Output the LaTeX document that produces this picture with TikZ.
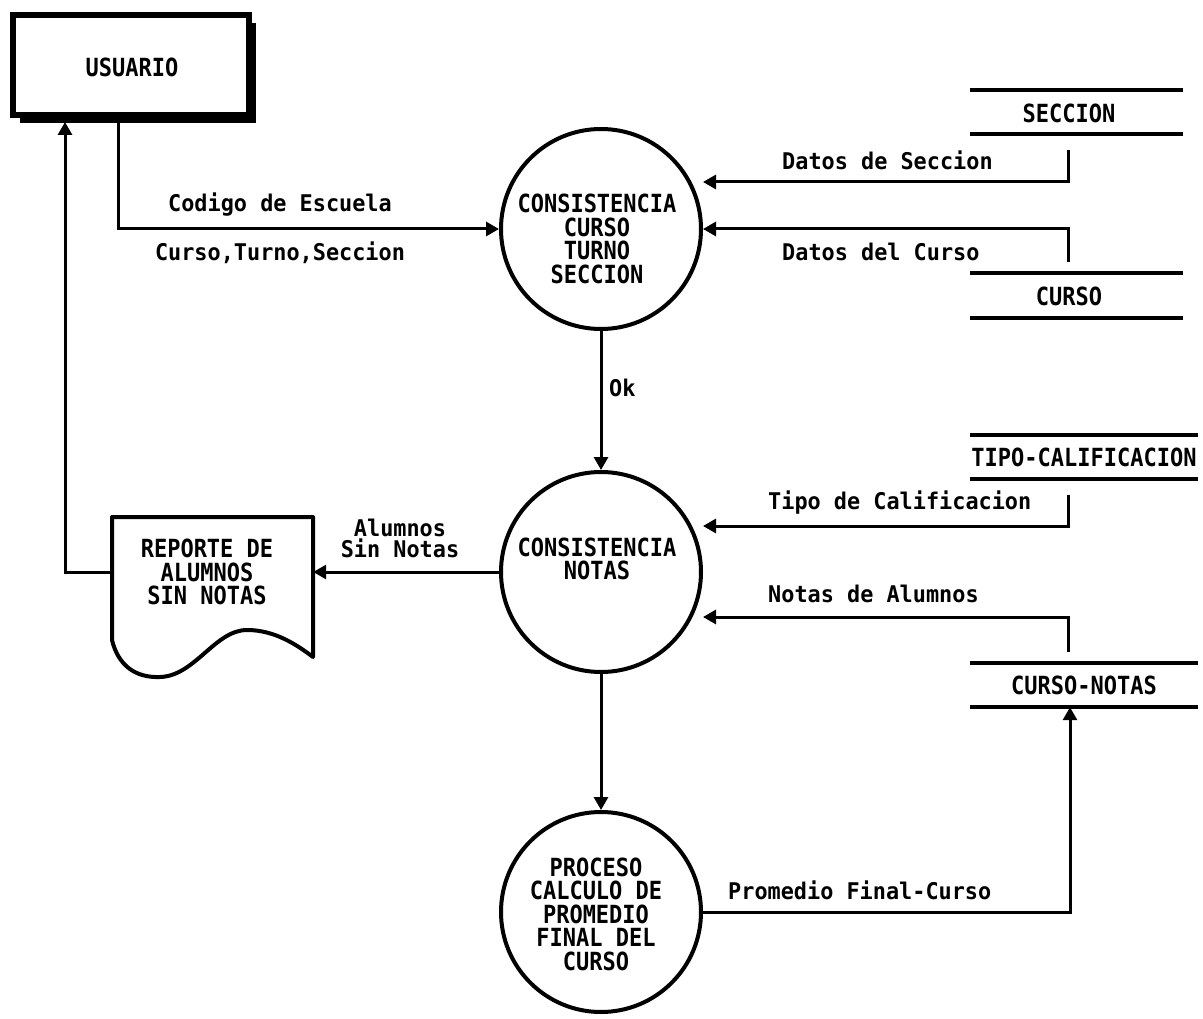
\documentclass[tikz,border=0pt]{standalone}
\usepackage{fontspec}
\usetikzlibrary{arrows.meta,calc,shadows}
\newfontfamily\titlefont[FakeStretch=0.88]{DejaVu Sans Mono}
\newfontfamily\labelfont[FakeStretch=0.95]{DejaVu Sans Mono}
\tikzset{
  titletxt/.style={font=\titlefont\bfseries\fontsize{25}{23.5}\selectfont, align=center, inner sep=0pt},
  lbl/.style={font=\labelfont\bfseries\fontsize{23}{21}\selectfont, inner sep=0pt},
  proc/.style={circle, draw, line width=4pt, minimum size=200pt, inner sep=0pt},
  flow/.style={line width=3pt, -{Triangle[length=13pt,width=14pt]}},
  storeline/.style={line width=4pt},
  store/.style={rectangle, inner sep=0pt, minimum height=44pt},
  entity/.style={rectangle, draw, line width=6pt, minimum width=236pt, minimum height=100pt,
    fill=white, drop shadow={shadow xshift=7pt, shadow yshift=-8pt, fill=black, opacity=1}},
}
\begin{document}
\begin{tikzpicture}[x=1pt, y=-1pt]
\useasboundingbox[fill=white] (0,0) rectangle (1203,1019);

% external entity
\node[entity] (usuario) at (131,65) {};
\node[titletxt] (usuariot) at (132,67) {USUARIO};

% processes
\node[proc] (c1) at (601,229) {};
\node[titletxt] (c1t) at (597,239) {CONSISTENCIA\\CURSO\\TURNO\\SECCION};
\node[proc] (c2) at (601,572) {};
\node[titletxt] (c2t) at (597,559) {CONSISTENCIA\\NOTAS};
\node[proc] (c3) at (601,912) {};
\node[titletxt] (c3t) at (596,914) {PROCESO\\CALCULO DE\\PROMEDIO\\FINAL DEL\\CURSO};

% data stores
\node[store, minimum width=213pt] (sSec) at (1076.5,112) {};
\node[titletxt] (sSect) at (1069,113) {SECCION};
\node[store, minimum width=213pt] (sCur) at (1076.5,295.5) {};
\node[titletxt] (sCurt) at (1069,296) {CURSO};
\node[store, minimum width=228pt] (sTipo) at (1084,457) {};
\node[titletxt] (sTipot) at (1084,457) {TIPO-CALIFICACION};
\node[store, minimum width=228pt] (sNot) at (1084,685) {};
\node[titletxt] (sNott) at (1084,685) {CURSO-NOTAS};
\foreach \s in {sSec,sCur,sTipo,sNot}{
  \draw[storeline] (\s.north west) -- (\s.north east);
  \draw[storeline] (\s.south west) -- (\s.south east);
}

% report document
\node[titletxt, minimum width=201pt, minimum height=110pt] (report) at (212.5,572) {};
\node[titletxt] (reportt) at (207,572) {REPORTE DE\\ALUMNOS\\SIN NOTAS};
\draw[line width=4pt, line join=round] (112,517) -- (112,640)
  .. controls (118,665) and (135,678) .. (160,677)
  .. controls (195,676) and (215,630) .. (247,630)
  .. controls (275,630) and (297,645) .. (313,657)
  -- (313,517) -- cycle;

% anchor points of the flows
\coordinate (uOut) at (118,0);
\coordinate (uIn) at (65,0);
\coordinate (dSec) at (1068,150);
\coordinate (dSecY) at (0,182);
\coordinate (dCur) at (1068,262);
\coordinate (dTipo) at (1068,495);
\coordinate (dTipoY) at (0,526);
\coordinate (dNot) at (1068,652);
\coordinate (dNotY) at (0,617);
\coordinate (dProm) at (1070,0);

% flows
\draw[flow] ([yshift=-4pt]usuario.south -| uOut) |- (c1.west);
\draw[flow] (dSec) -- (dSec |- dSecY) -- (c1.east |- dSecY);
\draw[flow] (dCur) -- (dCur |- c1.east) -- (c1.east);
\draw[flow] (c1.south) -- (c2.north);
\draw[flow] (dTipo) -- (dTipo |- dTipoY) -- (c2.east |- dTipoY);
\draw[flow] (dNot) -- (dNot |- dNotY) -- (c2.east |- dNotY);
\draw[flow] (c2.west) -- (report.east);
\draw[flow] (report.west) -| ([yshift=-4pt]usuario.south -| uIn);
\draw[flow] (c2.south) -- (c3.north);
\draw[flow] (c3.east) -| (dProm |- sNot.south);

% flow labels
\node[lbl] (lCod) at (280,205) {Codigo de Escuela};
\node[lbl] (lCur) at (280,253) {Curso,Turno,Seccion};
\node[lbl, anchor=west] (lOk) at (609,388) {Ok};
\node[lbl, anchor=west] (lSec) at (782,160) {Datos de Seccion};
\node[lbl, anchor=west] (lDCur) at (782,252) {Datos del Curso};
\node[lbl, anchor=west] (lTipo) at (768,503) {Tipo de Calificacion};
\node[lbl, anchor=west] (lNot) at (768,594) {Notas de Alumnos};
\node[lbl, align=center] (lAlu) at (400,538) {Alumnos\\Sin Notas};
\node[lbl, anchor=west] (lProm) at (728,890) {Promedio Final-Curso};
\end{tikzpicture}
\end{document}
